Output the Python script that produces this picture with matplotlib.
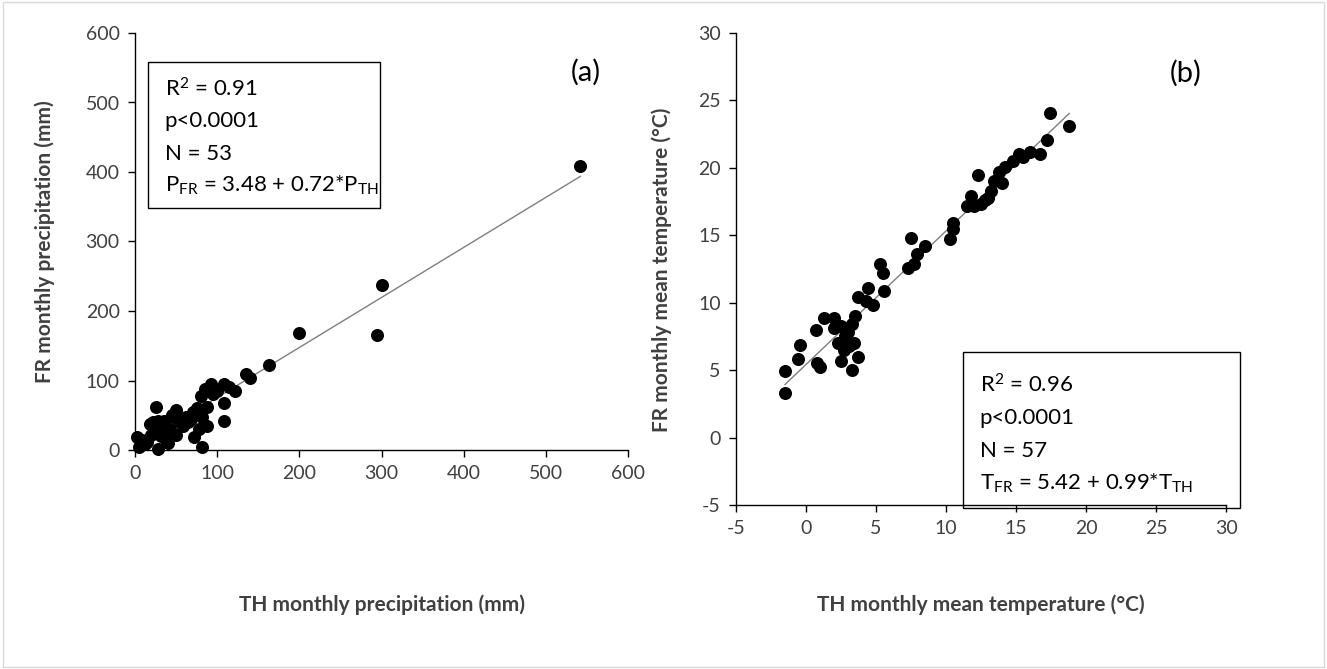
import numpy as np
import matplotlib
matplotlib.use('Agg')
import matplotlib.pyplot as plt
from matplotlib.patches import Rectangle

plt.rcParams['font.family'] = ['Lato', 'DejaVu Sans']
plt.rcParams['mathtext.fontset'] = 'custom'
plt.rcParams['mathtext.rm'] = 'Lato'
plt.rcParams['mathtext.it'] = 'Lato:italic'
plt.rcParams['mathtext.bf'] = 'Lato:bold'
plt.rcParams['axes.unicode_minus'] = False

# (a) monthly precipitation, TH vs FR (mm)
precip_th = [542, 300, 295, 200, 163, 135, 140, 122, 108, 108, 108, 92, 100,
             85, 88, 80, 82, 88, 82, 70, 68, 72, 62, 65, 78, 50, 48, 50, 42,
             40, 35, 28, 30, 28, 25, 22, 18, 20, 15, 12, 5, 2, 8, 95, 58,
             45, 32, 10, 55, 38, 75, 115, 25]
precip_fr = [408, 238, 165, 168, 122, 110, 104, 85, 95, 68, 42, 95, 85,
             88, 62, 78, 48, 35, 5, 55, 45, 18, 48, 40, 30, 58, 48, 22, 30,
             10, 42, 42, 28, 2, 62, 40, 38, 22, 12, 8, 5, 18, 15, 80, 35,
             50, 20, 10, 40, 15, 60, 90, 30]

# (b) monthly mean temperature, TH vs FR (degC)
temp_th = [-1.5, -1.5, -0.6, -0.4, 0.7, 0.8, 1.0, 1.3, 2.0, 2.0, 2.5, 2.3,
           2.5, 2.7, 3.0, 3.1, 3.3, 3.4, 3.5, 3.3, 3.7, 3.7, 4.4, 4.3, 4.8,
           5.3, 5.5, 5.6, 7.3, 7.5, 7.7, 7.9, 8.5, 10.3, 10.5, 10.5, 11.5,
           11.8, 12.0, 12.3, 12.5, 12.8, 13.0, 13.2, 13.4, 13.8, 14.0, 14.2,
           14.8, 15.2, 15.5, 16.0, 16.7, 17.2, 17.4, 18.8, 2.8]
temp_fr = [4.9, 3.3, 5.8, 6.9, 8.0, 5.5, 5.2, 8.9, 8.9, 8.1, 8.3, 7.0,
           5.7, 6.5, 7.8, 6.8, 8.4, 7.0, 9.0, 5.0, 6.0, 10.4, 11.1, 10.1, 9.8,
           12.9, 12.2, 10.9, 12.6, 14.8, 12.9, 13.6, 14.2, 14.7, 15.5, 15.9,
           17.2, 17.9, 17.2, 19.5, 17.3, 17.6, 17.8, 18.3, 19.0, 19.7, 18.9,
           20.1, 20.5, 21.0, 20.8, 21.2, 21.0, 22.1, 24.1, 23.1, 7.5]

W, H = 1327, 669
fig = plt.figure(figsize=(W / 100, H / 100), dpi=100)
fig.patches.append(Rectangle((0.002, 0.003), 0.996, 0.994, transform=fig.transFigure,
                             fill=False, edgecolor='#d9d9d9', linewidth=1))


def px_axes(x0, y0, x1, y1):
    return fig.add_axes([x0 / W, 1 - y1 / H, (x1 - x0) / W, (y1 - y0) / H])


def style(ax):
    for s in ['top', 'right']:
        ax.spines[s].set_visible(False)
    for s in ['left', 'bottom']:
        ax.spines[s].set_linewidth(1.0)
        ax.spines[s].set_color('#000000')
    ax.tick_params(direction='out', length=5, width=1, labelsize=14,
                   labelcolor='#404040', pad=6)


def stats_box(ax, x0, y0, x1, y1, lines, tx, ty, dy):
    ax.add_patch(Rectangle((x0, y0), x1 - x0, y1 - y0, transform=ax.transAxes,
                           fill=False, edgecolor='#000000', linewidth=1,
                           clip_on=False, zorder=5))
    for i, t in enumerate(lines):
        ax.text(tx, ty - i * dy, t, transform=ax.transAxes, fontsize=16,
                va='center', ha='left', color='#000000', zorder=6)


# ----- (a) precipitation -----
ax1 = px_axes(135, 33, 628, 450)
style(ax1)
ax1.set_xlim(0, 600)
ax1.set_ylim(0, 600)
ax1.set_xticks(range(0, 601, 100))
ax1.set_yticks(range(0, 601, 100))
ax1.scatter(precip_th, precip_fr, s=70, color='black', zorder=3, clip_on=False)
xa = np.array([0, max(precip_th)])
ax1.plot(xa, 3.48 + 0.72 * xa, color='#7f7f7f', linewidth=1, zorder=2)
ax1.text(0.915, 0.905, '(a)', transform=ax1.transAxes, fontsize=21, ha='center', va='center')
stats_box(ax1, 0.026, 0.58, 0.497, 0.93,
          [r'R$^\mathregular{2}$ = 0.91', 'p<0.0001', 'N = 53',
           r'P$_\mathregular{FR}$ = 3.48 + 0.72*P$_\mathregular{TH}$'],
          0.06, 0.865, 0.077)
fig.text(45 / W, 1 - 242 / H, 'FR monthly precipitation (mm)', rotation=90,
         fontsize=15, fontweight='bold', color='#404040', ha='center', va='center')
fig.text(382 / W, 1 - 605 / H, 'TH monthly precipitation (mm)',
         fontsize=15, fontweight='bold', color='#404040', ha='center', va='center')

# ----- (b) temperature -----
ax2 = px_axes(736, 33, 1226, 505)
style(ax2)
ax2.set_xlim(-5, 30)
ax2.set_ylim(-5, 30)
ax2.set_xticks(range(-5, 31, 5))
ax2.set_yticks(range(-5, 31, 5))
ax2.scatter(temp_th, temp_fr, s=70, color='black', zorder=3)
xb = np.array([min(temp_th), max(temp_th)])
ax2.plot(xb, 5.42 + 0.99 * xb, color='#7f7f7f', linewidth=1, zorder=2)
ax2.text(0.918, 0.915, '(b)', transform=ax2.transAxes, fontsize=21, ha='center', va='center')
stats_box(ax2, 0.463, -0.006, 1.029, 0.324,
          [r'R$^\mathregular{2}$ = 0.96', 'p<0.0001', 'N = 57',
           r'T$_\mathregular{FR}$ = 5.42 + 0.99*T$_\mathregular{TH}$'],
          0.497, 0.255, 0.070)
fig.text(662 / W, 1 - 270 / H, 'FR monthly mean temperature (°C)', rotation=90,
         fontsize=15, fontweight='bold', color='#404040', ha='center', va='center')
fig.text(981 / W, 1 - 605 / H, 'TH monthly mean temperature (°C)',
         fontsize=15, fontweight='bold', color='#404040', ha='center', va='center')

fig.savefig('out.png', dpi=100)
